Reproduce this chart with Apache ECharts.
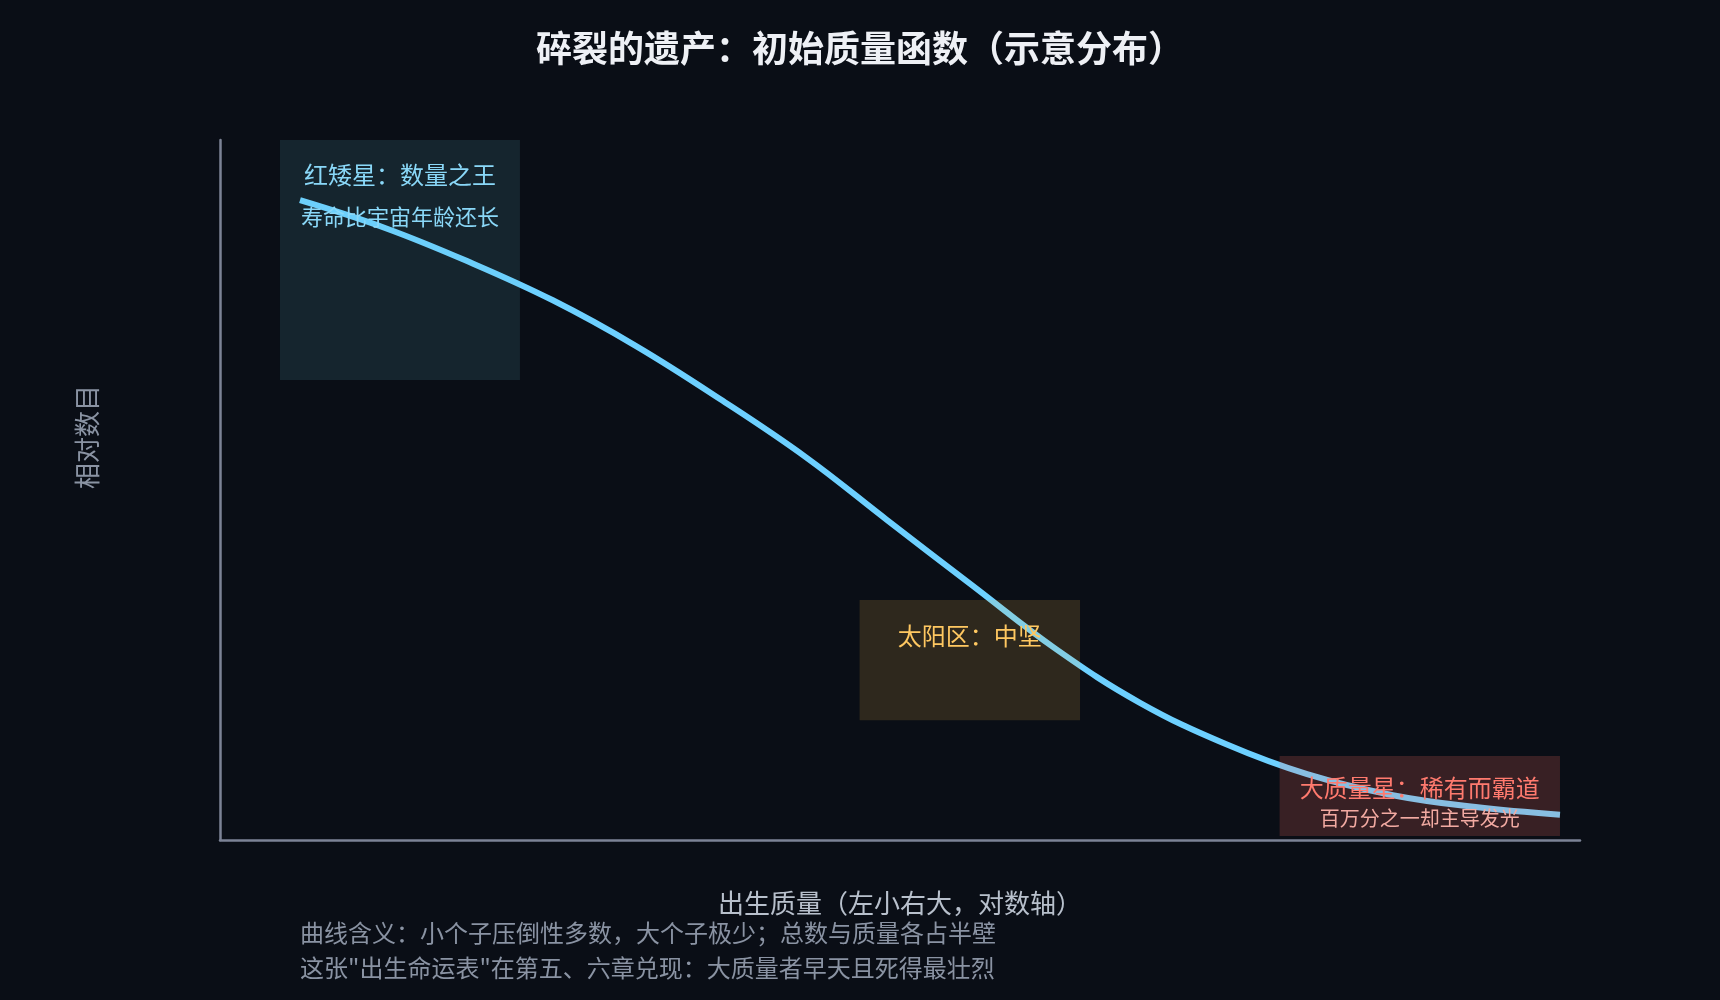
<!DOCTYPE html>
<html>
<head>
<meta charset="utf-8">
<title>初始质量函数</title>
<script src="https://cdn.jsdelivr.net/npm/echarts@6/dist/echarts.min.js"></script>
<style>
  html, body { margin: 0; padding: 0; background: #0a0e16; }
  #main { width: 1720px; height: 1000px; }
</style>
</head>
<body>
<div id="main"></div>
<script>
// 出生质量（太阳质量）与相对数目
const massValues = [0.1, 0.16, 0.25, 0.4, 0.63, 1, 1.6, 2.5, 4, 6.3, 10, 16, 25, 40, 63, 100];
const relNumbers = [91.4, 87.4, 82.7, 77.1, 70.6, 63.0, 54.7, 45.7, 36.3, 27.3, 19.6, 13.7, 9.4, 6.4, 4.7, 3.6];

// 三个区域：质量范围、纵向范围、文字
const zoneMass = [[0.0896, 0.334], [2.15, 7.2], [21.5, 100]];
const zoneLevel = [[65.7, 100], [17.1, 34.3], [0.57, 12]];
const zoneTitle = ['红矮星：数量之王', '太阳区：中坚', '大质量星：稀有而霸道'];
const zoneNote = ['寿命比宇宙年龄还长', '', '百万分之一却主导发光'];

const notes = [
  '曲线含义：小个子压倒性多数，大个子极少；总数与质量各占半壁',
  '这张"出生命运表"在第五、六章兑现：大质量者早天且死得最壮烈'
];

const FONT = '"Noto Sans CJK SC", "Noto Sans", sans-serif';

const zoneStyle = [
  { fill: 'rgba(111,207,223,0.12)', a: '#8ad8f8', b: '#8ad8f8', aSize: 24, bSize: 22, aLh: 40, bLh: 44, dist: 15 },
  { fill: 'rgba(255,193,77,0.15)', a: '#ffc861', b: '#ffc861', aSize: 24, bSize: 20, aLh: 40, bLh: 30, dist: 16 },
  { fill: 'rgba(255,110,100,0.19)', a: '#ff7a6e', b: '#f2aaa2', aSize: 24, bSize: 20, aLh: 32, bLh: 28, dist: 16 }
];

const chart = echarts.init(document.getElementById('main'));

const areaData = zoneMass.map(function (m, i) {
  const s = zoneStyle[i];
  const text = zoneNote[i] ? '{a|' + zoneTitle[i] + '}\n{b|' + zoneNote[i] + '}' : '{a|' + zoneTitle[i] + '}';
  return [
    {
      coord: [m[0], zoneLevel[i][1]],
      itemStyle: { color: s.fill },
      label: {
        show: true,
        position: 'insideTop',
        distance: s.dist,
        formatter: text,
        rich: {
          a: { fontFamily: FONT, fontSize: s.aSize, color: s.a, lineHeight: s.aLh, align: 'center' },
          b: { fontFamily: FONT, fontSize: s.bSize, color: s.b, lineHeight: s.bLh, align: 'center' }
        }
      }
    },
    { coord: [m[1], zoneLevel[i][0]] }
  ];
});

const option = {
  backgroundColor: '#0a0e16',
  animation: false,
  title: {
    text: '碎裂的遗产：初始质量函数（示意分布）',
    left: 'center',
    top: 25,
    textStyle: { color: '#eef0f5', fontSize: 36, fontWeight: 'bold', fontFamily: FONT }
  },
  grid: { left: 220, right: 140, top: 140, bottom: 160 },
  xAxis: {
    type: 'log',
    min: 0.0645,
    max: 111.6,
    name: '出生质量（左小右大，对数轴）',
    nameLocation: 'middle',
    nameGap: 50,
    nameTextStyle: { color: '#b8c0cc', fontSize: 26, fontFamily: FONT },
    axisLine: { show: true, lineStyle: { color: '#7c8396', width: 2.5 } },
    axisTick: { show: false },
    axisLabel: { show: false },
    splitLine: { show: false }
  },
  yAxis: {
    type: 'value',
    min: 0,
    max: 100,
    name: '相对数目',
    nameLocation: 'middle',
    nameGap: 120,
    nameTextStyle: { color: '#8a93a3', fontSize: 26, fontFamily: FONT, padding: [0, 0, 0, 106] },
    axisLine: { show: true, lineStyle: { color: '#7c8396', width: 2.5 } },
    axisTick: { show: false },
    axisLabel: { show: false },
    splitLine: { show: false }
  },
  graphic: notes.map(function (t, i) {
    return {
      type: 'text',
      left: 300,
      top: 921 + i * 35,
      style: { text: t, fill: '#8a93a3', fontSize: 24, fontFamily: FONT }
    };
  }),
  series: [
    {
      type: 'line',
      smooth: 0.4,
      showSymbol: false,
      data: massValues.map(function (m, i) { return [m, relNumbers[i]]; }),
      lineStyle: { color: '#6dd0ff', width: 6 },
      z: 2,
      markArea: {
        silent: true,
        z: 3,
        data: areaData
      }
    }
  ]
};

chart.setOption(option);
</script>
</body>
</html>
